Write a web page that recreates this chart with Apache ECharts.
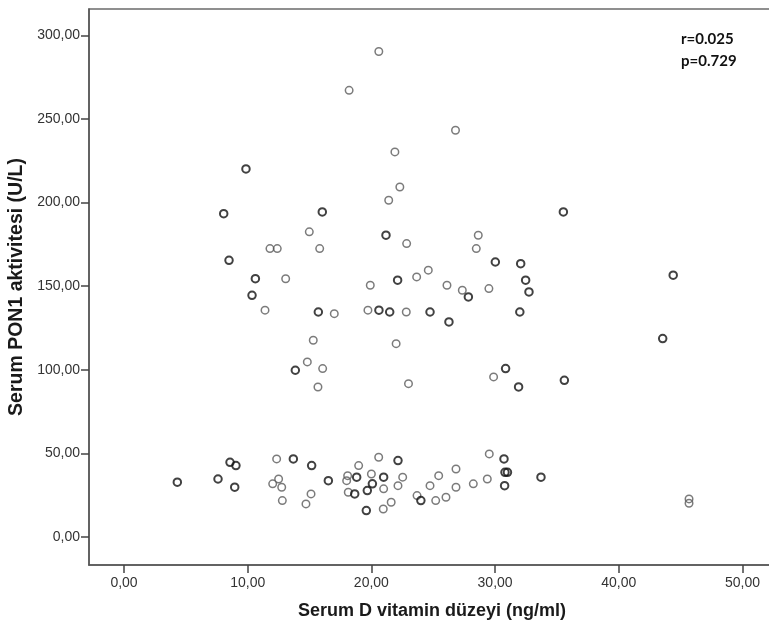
<!DOCTYPE html>
<html>
<head>
<meta charset="utf-8">
<script src="https://cdn.jsdelivr.net/npm/echarts@6/dist/echarts.min.js"></script>
<style>
html,body{margin:0;padding:0;background:#fff;}
#chart{width:769px;height:628px;}
</style>
</head>
<body>
<div id="chart"></div>
<script>
// Data (x: Serum D vitamin, y: Serum PON1)
const darkPoints = [
  [9.86,220.1],[8.06,193.4],[8.49,165.5],[10.62,154.5],[10.35,144.6],
  [16.03,194.4],[21.18,180.5],[30.02,164.5],[32.07,163.5],[15.71,134.6],
  [22.12,153.6],[27.84,143.6],[32.47,153.6],[32.74,146.6],[32.0,134.6],
  [20.61,135.7],[21.48,134.6],[24.74,134.6],[26.27,128.7],[13.85,99.8],
  [30.85,100.8],[31.9,89.8],[35.52,194.4],[44.4,156.6],[43.55,118.7],[35.6,93.8],
  [4.31,32.9],[7.6,34.8],[8.57,44.8],[9.05,42.8],[8.95,29.9],
  [13.69,46.8],[15.17,42.8],[16.52,33.8],[18.81,35.9],[18.65,25.9],
  [20.08,31.9],[19.67,27.9],[19.59,15.9],[20.99,35.9],[22.15,45.8],
  [24.0,21.9],[30.72,46.8],[30.8,38.8],[31.0,38.8],[30.77,30.8],[33.71,35.9]
];
const lightPoints = [
  [20.6,290.3],[18.2,267.1],[26.8,243.2],[21.9,230.3],[22.3,209.3],[21.4,201.4],
  [14.98,182.5],[22.85,175.5],[11.8,172.5],[12.39,172.5],[15.82,172.5],
  [28.64,180.5],[28.48,172.5],[13.07,154.5],[11.4,135.7],[17.0,133.6],
  [19.91,150.6],[23.66,155.6],[24.6,159.6],[26.11,150.6],[27.35,147.6],
  [29.5,148.6],[19.72,135.7],[22.82,134.6],[15.3,117.7],[22.0,115.7],
  [14.82,104.8],[16.06,100.8],[15.68,89.8],[23.0,91.8],[29.88,95.8],
  [12.34,46.8],[12.5,34.8],[12.02,31.9],[12.75,29.9],[12.8,21.9],
  [15.12,25.9],[14.71,19.9],[18.08,36.8],[18.0,33.8],[18.97,42.8],
  [18.13,26.9],[20.0,37.8],[20.59,47.8],[20.99,28.9],[20.96,16.9],
  [21.6,20.9],[22.53,35.9],[22.15,30.8],[23.69,24.9],[24.74,30.8],
  [25.44,36.8],[25.2,21.9],[26.03,23.9],[26.84,40.8],[26.84,29.9],
  [28.24,31.9],[29.37,34.8],[29.53,49.8],[45.68,22.9],[45.68,20.3]
];
const xTicks = [0,10,20,30,40,50];
const yTicks = [0,50,100,150,200,250,300];
const xName = 'Serum D vitamin düzeyi (ng/ml)';
const yName = 'Serum PON1 aktivitesi (U/L)';
const statLines = ['r=0.025','p=0.729'];

const fmt = v => v.toFixed(2).replace('.', ',');
const chart = echarts.init(document.getElementById('chart'), null, {renderer:'canvas'});
const FONT = '"Liberation Sans", Arial, sans-serif';
chart.setOption({
  animation:false,
  backgroundColor:'#fff',
  grid:{left:89,top:9,right:-6,bottom:63,outerBoundsMode:'none',containLabel:false,
        show:true,borderColor:'#6b6b6b',borderWidth:1.5,backgroundColor:'transparent'},
  xAxis:{
    type:'value', min:-2.83, max:52.63,
    name:xName, nameLocation:'middle', nameGap:37,
    nameTextStyle:{fontFamily:FONT,fontWeight:'bold',fontSize:18,color:'#1a1a1a'},
    axisLine:{show:true,onZero:false,lineStyle:{color:'#555',width:1.5}},
    axisTick:{show:true,length:8,customValues:xTicks,lineStyle:{color:'#444',width:1.5}},
    axisLabel:{customValues:xTicks,formatter:fmt,margin:11,fontFamily:FONT,fontSize:14,color:'#333'},
    splitLine:{show:false}
  },
  yAxis:{
    type:'value', min:-16.6, max:315.7,
    name:yName, nameLocation:'middle', nameGap:61, nameRotate:90,
    nameTextStyle:{fontFamily:FONT,fontWeight:'bold',fontSize:19.5,color:'#1a1a1a'},
    axisLine:{show:true,onZero:false,lineStyle:{color:'#555',width:1.5}},
    axisTick:{show:true,length:8,customValues:yTicks,lineStyle:{color:'#444',width:1.5}},
    axisLabel:{customValues:yTicks,formatter:fmt,margin:9,fontFamily:FONT,fontSize:14,color:'#333'},
    splitLine:{show:false}
  },
  graphic:[
    {type:'text',left:681,top:32,style:{text:statLines[0],font:'bold 15px Lato, "Liberation Sans", sans-serif',fill:'#111'}},
    {type:'text',left:681,top:54,style:{text:statLines[1],font:'bold 15px Lato, "Liberation Sans", sans-serif',fill:'#111'}}
  ],
  series:[
    {type:'scatter',data:lightPoints,symbol:'circle',symbolSize:7.5,
     itemStyle:{color:'rgba(255,255,255,0)',borderColor:'#5a5a5a',borderWidth:1.5}},
    {type:'scatter',data:darkPoints,symbol:'circle',symbolSize:7.5,
     itemStyle:{color:'rgba(255,255,255,0)',borderColor:'#111',borderWidth:2}}
  ]
});
</script>
</body>
</html>
